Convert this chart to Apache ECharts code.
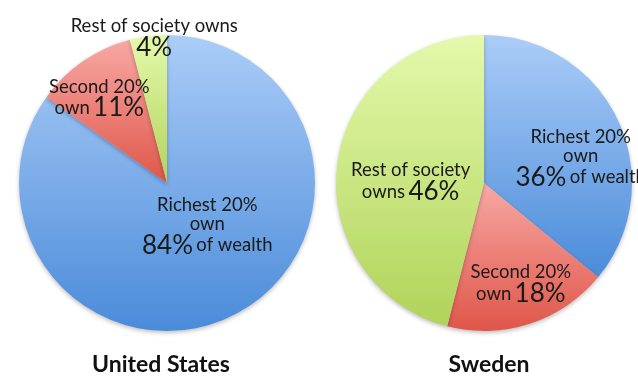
<!DOCTYPE html>
<html><head><meta charset="utf-8">
<script src="https://cdn.jsdelivr.net/npm/echarts@6/dist/echarts.min.js"></script>
<style>html,body{margin:0;padding:0;background:#fff}#c{width:638px;height:383px}</style>
</head><body><div id="c"></div>
<script>
// Data
const categories = ['Richest 20%', 'Second 20%', 'Rest of society'];
const usValues = [84, 11, 4];
const swedenValues = [36, 18, 46];
const titles = ['United States', 'Sweden'];

// Label text templates (per country, per category)
const usLabels = [
  '{s|Richest 20%}\n{s|own}\n{b|84%} {s|of wealth}',
  '{s|Second 20%}\n{s|own} {b|11%}',
  '{s|Rest of society owns}\n{b|4%}'
];
const swLabels = [
  '{s|Richest 20%}\n{s|own}\n{b|36%} {s|of wealth}',
  '{s|Second 20%}\n{s|own} {b|18%}',
  '{s|Rest of society}\n{s|owns} {b|46%}'
];
// label nudges (styling)
const usShift = [[5, -25], [-24, -21], [-3, -69]];
const swShift = [[27, 8], [13, 28], [3, 9]];

const grad = (a, b) => new echarts.graphic.LinearGradient(0, 0, 0, 1, [{offset: 0, color: a}, {offset: 1, color: b}]);
const fills = [grad('#abcdf8', '#4a8bd9'), grad('#f8a8a4', '#df5649'), grad('#e4f9ab', '#b0d35a')];

const font = 'Lato, "Open Sans", sans-serif';
const rich = {
  s: {fontSize: 18.5, fontFamily: font, color: '#1a1a1a', lineHeight: 19},
  b: {fontSize: 26, fontFamily: font, color: '#1a1a1a', lineHeight: 24}
};

function makeSeries(values, labels, shift, center) {
  return {
    type: 'pie',
    center: center,
    radius: 148,
    startAngle: 90,
    clockwise: true,
    animation: false,
    silent: true,
    itemStyle: {borderWidth: 0, shadowColor: 'rgba(0,0,0,0.25)', shadowBlur: 4, shadowOffsetY: 2},
    label: {position: 'inside', rich: rich, align: 'center', lineHeight: 19},
    labelLine: {show: false},
    labelLayout: p => ({dx: shift[p.dataIndex][0], dy: shift[p.dataIndex][1]}),
    data: values.map((v, i) => ({
      name: categories[i], value: v,
      itemStyle: {color: fills[i]},
      label: {formatter: labels[i]}
    }))
  };
}

const chart = echarts.init(document.getElementById('c'));
chart.setOption({
  backgroundColor: '#fff',
  title: [
    {text: titles[0], left: 156, top: 348, textAlign: 'center', textStyle: {fontSize: 23, fontWeight: 'bold', fontFamily: font, color: '#111'}},
    {text: titles[1], left: 484, top: 348, textAlign: 'center', textStyle: {fontSize: 23, fontWeight: 'bold', fontFamily: font, color: '#111'}}
  ],
  series: [
    makeSeries(usValues, usLabels, usShift, [167, 183]),
    makeSeries(swedenValues, swLabels, swShift, [484, 183])
  ]
});
</script></body></html>
